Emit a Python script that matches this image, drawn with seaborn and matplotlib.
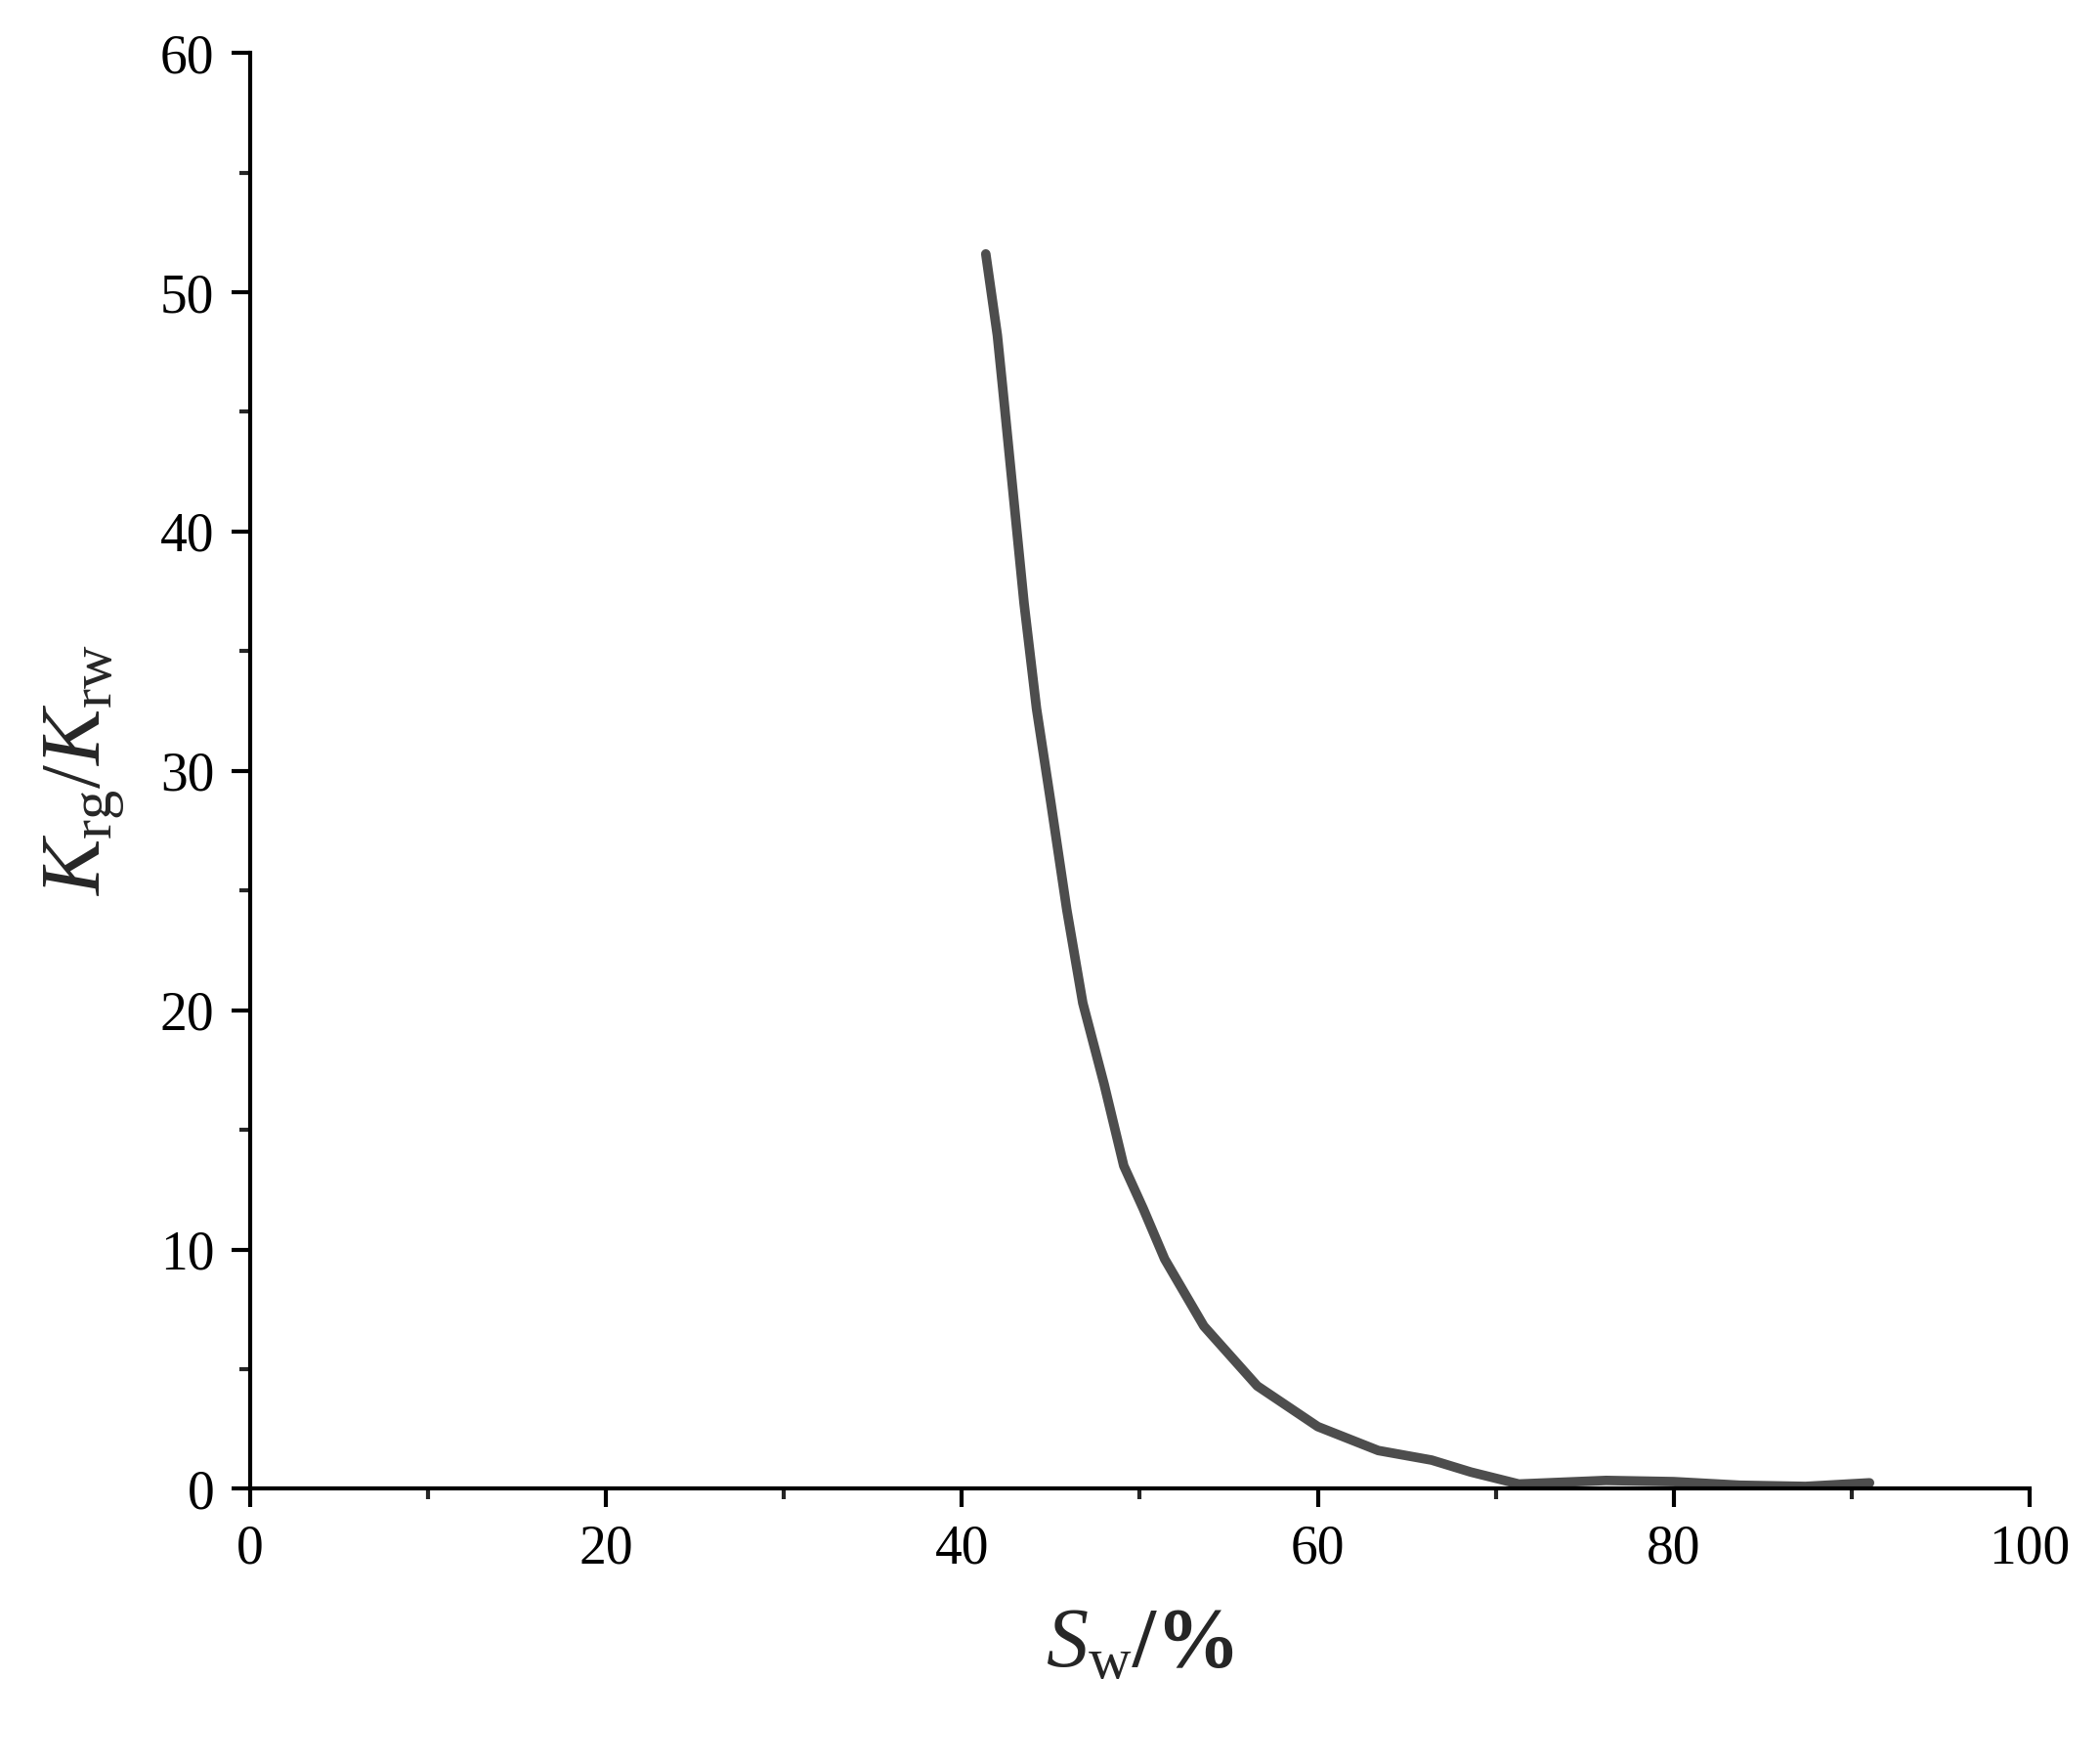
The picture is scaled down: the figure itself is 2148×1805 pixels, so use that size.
import numpy as np
import seaborn as sns
import matplotlib.pyplot as plt
from matplotlib.ticker import MultipleLocator

# water saturation (%) and gas/water relative permeability ratio
sw = [41.35, 42.0, 42.3, 42.9, 43.5, 44.2, 45.0, 45.9, 46.8, 48.0, 49.1, 50.2, 51.4,
      53.6, 56.6, 60.0, 63.4, 66.4, 68.6, 71.3, 76.2, 80.0, 83.7, 87.4, 91.0]
krg_krw = [51.6, 48.2, 46.0, 41.5, 37.0, 32.6, 28.7, 24.2, 20.3, 16.9, 13.5, 11.7, 9.6,
           6.8, 4.3, 2.6, 1.6, 1.2, 0.7, 0.2, 0.35, 0.3, 0.15, 0.1, 0.25]

sns.set_style('ticks')
plt.rcParams['font.family'] = ['Liberation Serif', 'DejaVu Serif']
plt.rcParams['mathtext.fontset'] = 'custom'
plt.rcParams['mathtext.rm'] = 'Liberation Serif'
plt.rcParams['mathtext.it'] = 'Liberation Serif:italic'
plt.rcParams['mathtext.bf'] = 'Liberation Serif:bold'

fig = plt.figure(figsize=(21.48, 18.05), dpi=100)
ax = fig.add_axes([0.119, 0.156, 0.848, 0.814])
sns.lineplot(x=sw, y=krg_krw, ax=ax, color='#4d4d4d', linewidth=7)

ax.set_xlim(0, 100)
ax.set_ylim(0, 60)
ax.xaxis.set_major_locator(MultipleLocator(20))
ax.xaxis.set_minor_locator(MultipleLocator(10))
ax.yaxis.set_major_locator(MultipleLocator(10))
ax.yaxis.set_minor_locator(MultipleLocator(5))
ax.tick_params(which='major', direction='out', length=14, width=3, labelsize=40,
               pad=12, colors='black')
ax.tick_params(which='minor', direction='out', length=8, width=3)
for s in ['left', 'bottom']:
    ax.spines[s].set_linewidth(3)
    ax.spines[s].set_color('black')
sns.despine(ax=ax)

ax.set_xlabel(r'$\mathit{S}_{\mathrm{w}}$/%', fontsize=62, fontweight='bold', labelpad=25)
ax.set_ylabel(r'$\mathit{K}_{\mathrm{rg}}/\mathit{K}_{\mathrm{rw}}$', fontsize=62, labelpad=25)

fig.savefig('out.png', dpi=100)
